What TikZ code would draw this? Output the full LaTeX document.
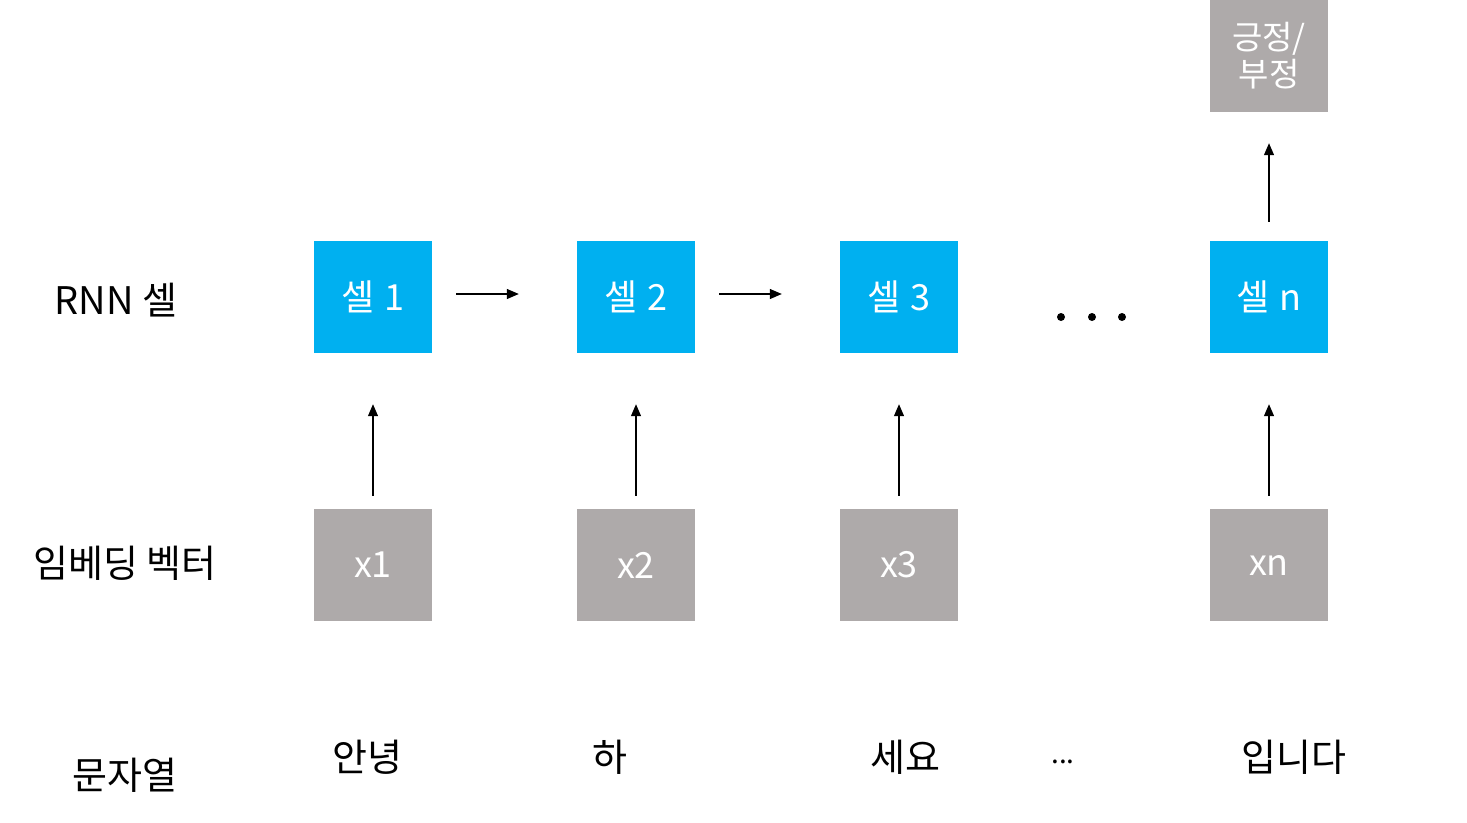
\documentclass[tikz,border=0pt]{standalone}
\usepackage{fontspec}
\setmainfont{Noto Sans CJK KR}
\usetikzlibrary{arrows.meta}
\definecolor{cellblue}{HTML}{00B0F0}
\definecolor{vecgray}{HTML}{AEAAAA}
\begin{document}
\begin{tikzpicture}[x=1pt,y=-1pt,
  cellbox/.style={fill=cellblue,draw=none,minimum width=118pt,minimum height=112pt,inner sep=0pt,text=white,font=\fontsize{36}{40}\selectfont},
  vecbox/.style={fill=vecgray,draw=none,minimum width=118pt,minimum height=112pt,inner sep=0pt,text=white,font=\fontsize{36}{40}\selectfont},
  lbl/.style={inner sep=0pt,font=\fontsize{38}{42}\selectfont},
  arr/.style={-{Triangle[length=12pt,width=10pt]},line width=1.2pt},
  dotc/.style={circle,fill=black,inner sep=0pt,minimum size=8pt}]
\useasboundingbox (0,0) rectangle (1467,822);
% cells
\node[cellbox] (c1) at (373,297) {셀\hspace{10pt}1};
\node[cellbox] (c2) at (636,297) {셀\hspace{10pt}2};
\node[cellbox] (c3) at (899,297) {셀\hspace{10pt}3};
\node[cellbox] (cn) at (1269,297) {셀\hspace{10pt}n};
% vectors
\node[vecbox] (x1) at (373,565) {x1};
\node[vecbox] (x2) at (636,565) {x2};
\node[vecbox] (x3) at (899,565) {x3};
\node[vecbox] (xn) at (1269,565) {xn};
% output
\node[vecbox,align=center,font=\fontsize{33}{37}\selectfont] (out) at (1269,56) {긍정/\\부정};
% dots
\node[dotc] (d1) at (1061,317) {};
\node[dotc] (d2) at (1092,317) {};
\node[dotc] (d3) at (1122,317) {};
% labels
\node[lbl] (l1) at (116,300) {RNN 셀};
\node[lbl] (l2) at (125,563) {임베딩 벡터};
\node[lbl] (l3) at (125,775) {문자열};
\node[lbl] (w1) at (367,757) {안녕};
\node[lbl] (w2) at (610,757) {하};
\node[lbl] (w3) at (905,757) {세요};
\node[lbl,font=\fontsize{28}{30}\selectfont] (w4) at (1063,762) {...};
\node[lbl] (w5) at (1294,757) {입니다};
% arrows
\draw[arr] ([yshift=13pt]x1.north) -- ([yshift=-51pt]c1.south);
\draw[arr] ([yshift=13pt]x2.north) -- ([yshift=-51pt]c2.south);
\draw[arr] ([yshift=13pt]x3.north) -- ([yshift=-51pt]c3.south);
\draw[arr] ([yshift=13pt]xn.north) -- ([yshift=-51pt]cn.south);
\draw[arr] ([yshift=19pt]cn.north) -- ([yshift=-31pt]out.south);
\draw[arr] ([xshift=24pt,yshift=3pt]c1.east) -- ([xshift=-58pt,yshift=3pt]c2.west);
\draw[arr] ([xshift=24pt,yshift=3pt]c2.east) -- ([xshift=-58pt,yshift=3pt]c3.west);
\end{tikzpicture}
\end{document}
